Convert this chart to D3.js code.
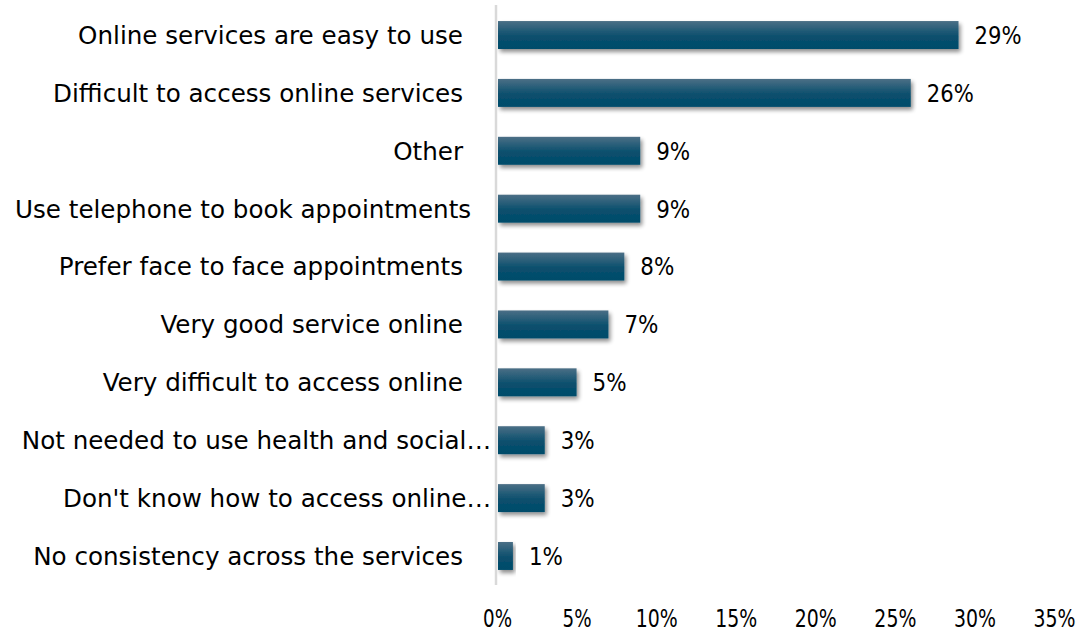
<!DOCTYPE html>
<html>
<head>
<meta charset="utf-8">
<script src="https://cdn.jsdelivr.net/npm/d3@7"></script>
<style>
  html, body { margin: 0; padding: 0; background: #fff; }
  svg { display: block; }
  text { font-family: "DejaVu Sans", sans-serif; fill: #000; }
</style>
</head>
<body>
<svg id="chart" width="1083" height="635"></svg>
<script>
// Survey responses, in display order (top to bottom)
const categories = [
  "Online services are easy to use",
  "Difficult to access online services",
  "Other",
  "Use telephone to book appointments",
  "Prefer face to face appointments",
  "Very good service online",
  "Very difficult to access online",
  "Not needed to use health and social\u2026",
  "Don't know how to access online\u2026",
  "No consistency across the services"
];
const values = [29, 26, 9, 9, 8, 7, 5, 3, 3, 1];
const tickValues = [0, 5, 10, 15, 20, 25, 30, 35];

const FONT = "\"DejaVu Sans\", sans-serif";
const FS = 24.6;
const svg = d3.select("#chart");
const W = 1083, H = 635;
const margin = { left: 497, right: 29, top: 6, bottom: 50 };

const x = d3.scaleLinear().domain([0, 35]).range([margin.left, W - margin.right]);
const y = d3.scaleBand().domain(categories)
  .range([margin.top, H - margin.bottom])
  .paddingInner(0.517).paddingOuter(0.26);

// narrow percent figures, the default digits run wide
const pctWidth = d => (d >= 10 ? 43 : 30);

const defs = svg.append("defs");
const grad = defs.append("linearGradient").attr("id", "barGrad")
  .attr("x1", 0).attr("y1", 0).attr("x2", 0).attr("y2", 1);
grad.append("stop").attr("offset", "0%").attr("stop-color", "#4b6f86");
grad.append("stop").attr("offset", "55%").attr("stop-color", "#0a4f6d");
grad.append("stop").attr("offset", "100%").attr("stop-color", "#004c6b");

const shadow = defs.append("filter").attr("id", "barShadow")
  .attr("x", "-20%").attr("y", "-30%").attr("width", "140%").attr("height", "190%");
shadow.append("feGaussianBlur").attr("in", "SourceAlpha").attr("stdDeviation", 2.2).attr("result", "b");
shadow.append("feOffset").attr("in", "b").attr("dx", 1.5).attr("dy", 3).attr("result", "o");
shadow.append("feComponentTransfer").attr("in", "o").attr("result", "s")
  .append("feFuncA").attr("type", "linear").attr("slope", 0.45);
const merge = shadow.append("feMerge");
merge.append("feMergeNode").attr("in", "s");
merge.append("feMergeNode").attr("in", "SourceGraphic");

// bars
svg.append("g").selectAll("rect").data(values).join("rect")
  .attr("x", x(0) + 1)
  .attr("y", (d, i) => y(categories[i]))
  .attr("width", d => x(d) - x(0) - 1)
  .attr("height", y.bandwidth())
  .attr("fill", "url(#barGrad)")
  .attr("filter", "url(#barShadow)");

// vertical category axis line
svg.append("line")
  .attr("x1", x(0) - 1).attr("x2", x(0) - 1)
  .attr("y1", 5).attr("y2", 585)
  .attr("stroke", "#d9d9d9").attr("stroke-width", 2.5);

// value labels
svg.append("g").selectAll("text").data(values).join("text")
  .attr("x", d => x(d) + 16)
  .attr("y", (d, i) => y(categories[i]) + y.bandwidth() / 2)
  .attr("dy", "0.36em")
  .attr("font-size", FS)
  .attr("textLength", d => pctWidth(d) + 4)
  .attr("lengthAdjust", "spacingAndGlyphs")
  .text(d => d + "%");

// category labels
const labels = svg.append("g").selectAll("text").data(categories).join("text")
  .attr("x", d => d.endsWith("\u2026") ? x(0) - 6 : x(0) - 34)
  .attr("y", d => y(d) + y.bandwidth() / 2)
  .attr("dy", "0.36em")
  .attr("text-anchor", "end")
  .attr("font-size", FS)
  .text(d => d);
// long labels start at the left edge and run past the usual right edge
labels.each(function () {
  const bb = this.getBBox();
  if (bb.x < 12) d3.select(this).attr("x", +d3.select(this).attr("x") + (8 - bb.x) + 7);
});

// x axis tick labels
const xAxis = d3.axisBottom(x).tickValues(tickValues).tickFormat(d => d + "%").tickSize(0).tickPadding(0);
const gx = svg.append("g").attr("transform", "translate(0,618)").call(xAxis);
gx.select(".domain").remove();
gx.selectAll("text").attr("font-size", FS).attr("dy", "0.36em")
  .style("font-family", FONT).attr("fill", "#000")
  .attr("textLength", d => pctWidth(d) - 1)
  .attr("lengthAdjust", "spacingAndGlyphs");
</script>
</body>
</html>
